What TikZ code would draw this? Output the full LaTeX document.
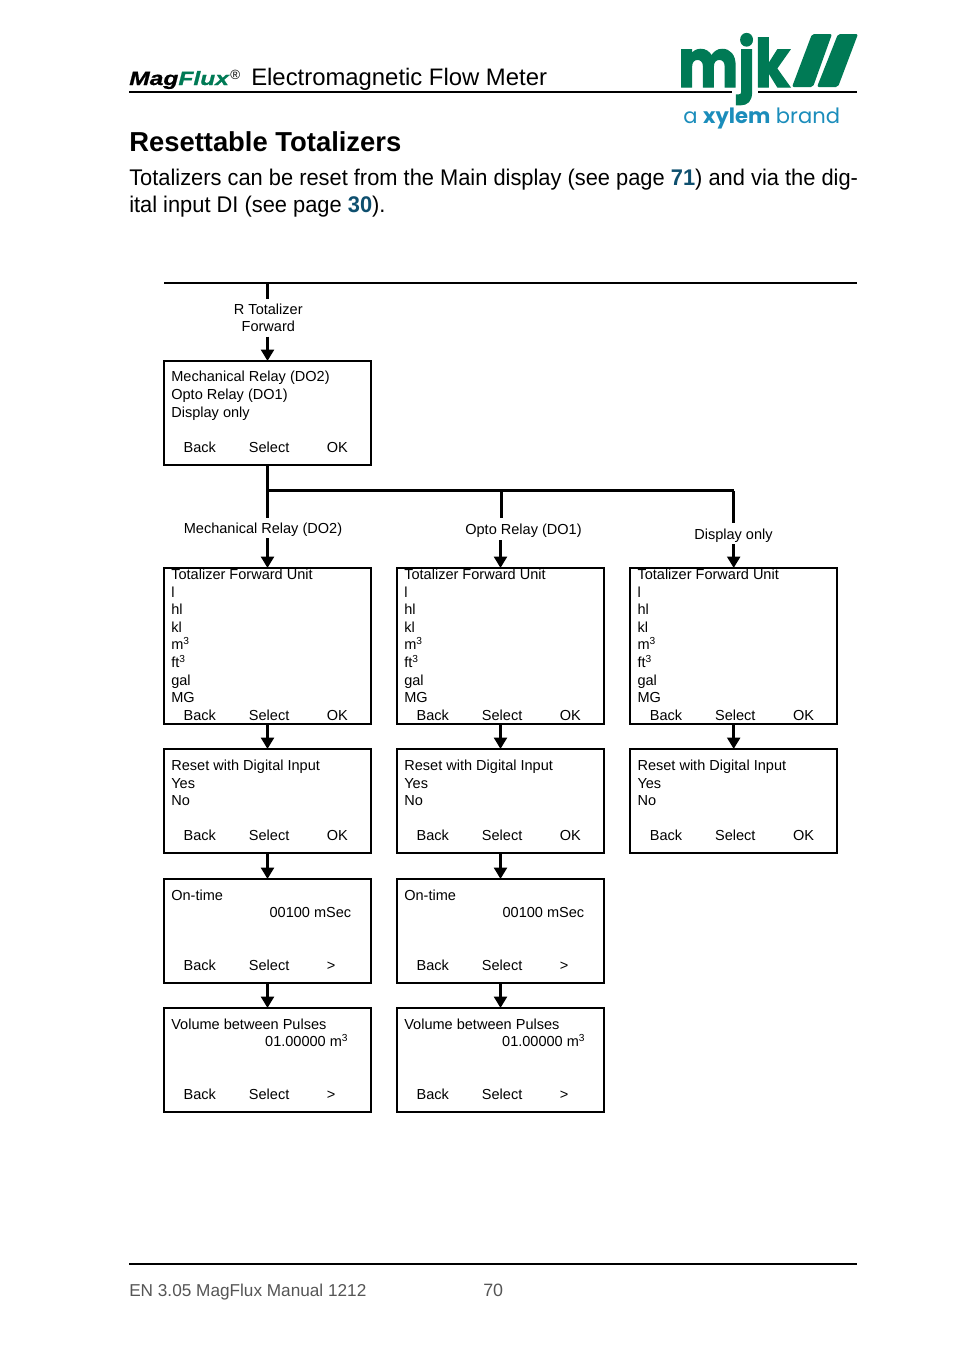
\documentclass[tikz,border=0pt]{standalone}
\usepackage{xcolor}
\usepackage{fontspec}
\setmainfont{Liberation Sans}
\newfontfamily\logofont{Poppins}
\newfontfamily\brandfont{Poppins}
\usetikzlibrary{arrows.meta,positioning}
\definecolor{mjkgreen}{HTML}{007A55}
\definecolor{xylemblue}{HTML}{1B8DBB}
\definecolor{linkblue}{HTML}{0E4F6E}
\definecolor{footgray}{HTML}{555555}
% softkey row of a display box: box name, third key, height above box bottom
\newcommand{\softkeys}[3]{
    \node[key] at ([xshift=14.5pt,yshift=#3]#1.south west) {Back};
    \node[key] at ([xshift=63.5pt,yshift=#3]#1.south west) {Select};
    \node[key] at ([xshift=122pt,yshift=#3]#1.south west) {#2};
}
\newcommand{\bodytext}[2]{
    \node[body] at ([xshift=5.3pt,yshift=-8pt]#1.north west) {#2};
}
\begin{document}
\begin{tikzpicture}[x=0.75pt,y=-0.75pt,
    dispbox/.style={draw=black,line width=1.7pt,minimum width=155.25pt,outer sep=0pt,inner sep=0pt},
    small/.style={dispbox,minimum height=78pt},
    tall/.style={dispbox,minimum height=117pt},
    body/.style={anchor=north west,align=left,inner sep=0pt,font=\fontsize{10.9}{13.2}\selectfont},
    key/.style={anchor=base west,inner sep=0pt,font=\fontsize{10.9}{13.2}\selectfont},
    lab/.style={align=center,inner sep=0pt,font=\fontsize{10.9}{13}\selectfont},
    oneline/.style={lab,text height=9.5pt,text depth=1pt},
    flow/.style={-{Triangle[length=8.5pt,width=9.5pt]},line width=2.25pt},
    stem/.style={line width=2.25pt},
    thinstem/.style={line width=1.8pt},
    page/.style={anchor=base west,inner sep=0pt}]
    \useasboundingbox (0,0) rectangle (954,1354);
    % page head
    \node[page,font=\fontsize{14.4}{16}\bfseries\itshape\selectfont] at (129,85) (brand) {\addfontfeature{FakeStretch=1.28,FakeBold=1}Mag\textcolor{mjkgreen}{Flux}};
    \node[page,font=\fontsize{10}{11}\selectfont] at (230,79) (reg) {®};
    \node[page,font=\fontsize{17.9}{20}\selectfont] at (251,85) (head) {Electromagnetic Flow Meter};
    \coordinate (ruleA) at (129,92);
    \coordinate (ruleB) at (732,92);
    \coordinate (ruleC) at (758,92);
    \coordinate (ruleD) at (857,92);
    \draw[line width=1pt] (ruleA) -- (ruleB);
    \draw[line width=1pt] (ruleC) -- (ruleD);
    % logo
    \node[page,text=mjkgreen,font=\fontsize{50}{60}\bfseries\selectfont] at (678,87) (mjk) {\logofont\addfontfeature{FakeStretch=0.85,FakeBold=2}mjk};
    \fill[mjkgreen,rounded corners=1.5pt] (812,34) -- (832,34) -- (813,87) -- (792,87) -- cycle;
    \fill[mjkgreen,rounded corners=1.5pt] (838,34) -- (858,34) -- (838,87) -- (817,87) -- cycle;
    \node[page,text=xylemblue,font=\fontsize{15.8}{20}\selectfont] at (683,123) (xylem) {\brandfont a \textbf{xylem} brand};
    % title and intro
    \node[page,font=\fontsize{20.55}{24}\bfseries\selectfont] at (129,151) (title) {Resettable Totalizers};
    \node[page,font=\fontsize{17}{20}\selectfont] at (129,185) (introA) {\addfontfeature{FakeStretch=0.964}Totalizers can be reset from the Main display (see page \textcolor{linkblue}{\textbf{71}}) and via the dig-};
    \node[page,font=\fontsize{17}{20}\selectfont] at (129,212) (introB) {\addfontfeature{FakeStretch=0.964}ital input DI (see page \textcolor{linkblue}{\textbf{30}}).};

    % boxes
    \node[small] at (267.5,413) (mode) {};
    \node[tall] at (267.5,646) (unitA) {};
    \node[tall] at (500.5,646) (unitB) {};
    \node[tall] at (733.7,646) (unitC) {};
    \node[small] at (267.5,801) (resetA) {};
    \node[small] at (500.5,801) (resetB) {};
    \node[small] at (733.7,801) (resetC) {};
    \node[small] at (267.5,931) (timeA) {};
    \node[small] at (500.5,931) (timeB) {};
    \node[small] at (267.5,1060) (volA) {};
    \node[small] at (500.5,1060) (volB) {};

    % box contents
    \node[body] at ([xshift=5.3pt,yshift=-7.5pt]mode.north west) {Mechanical Relay (DO2)\\Opto Relay (DO1)\\Display only};
    \softkeys{mode}{OK}{9.75pt}
    \foreach \col in {unitA,unitB,unitC}{
        \node[body] at ([xshift=5.3pt,yshift=-.5pt]\col.north west) {Totalizer Forward Unit\\l\\hl\\kl\\m\textsuperscript{3}\\ft\textsuperscript{3}\\gal\\MG};
        \softkeys{\col}{OK}{3pt}
    }
    \foreach \col in {resetA,resetB,resetC}{
        \bodytext{\col}{Reset with Digital Input\\Yes\\No}
        \softkeys{\col}{OK}{9.75pt}
    }
    \foreach \col in {timeA,timeB}{
        \bodytext{\col}{On-time}
        \node[key] at ([xshift=79pt,yshift=-28.5pt]\col.north west) {00100 mSec};
        \softkeys{\col}{>}{9.75pt}
    }
    \foreach \col/\off in {volA/75.7pt,volB/78.7pt}{
        \bodytext{\col}{Volume between Pulses}
        \node[key] at ([xshift=\off,yshift=-29.2pt]\col.north west) {01.00000 m\textsuperscript{3}};
        \softkeys{\col}{>}{9.75pt}
    }

    % branch labels
    \node[lab,minimum height=27.75pt] at (268.3,317.8) (labR) {R Totalizer\\Forward};
    \node[oneline,minimum height=15pt] at (263,528) (labA) {Mechanical Relay (DO2)};
    \node[oneline,minimum height=16.5pt] at (523.5,529) (labB) {Opto Relay (DO1)};
    \node[oneline,minimum height=15.75pt] at (733.5,533.5) (labC) {Display only};

    % top rule and foot
    \coordinate (topL) at (164,283);
    \coordinate (topR) at (857,283);
    \coordinate (topS) at (267.5,283);
    \draw[line width=1.5pt] (topL) -- (topR);
    \coordinate (footL) at (129,1264);
    \coordinate (footR) at (857,1264);
    \draw[line width=1.5pt] (footL) -- (footR);
    \node[page,text=footgray,font=\fontsize{12.9}{16}\selectfont] at (129,1296) (footA) {EN 3.05 MagFlux Manual 1212};
    \node[page,text=footgray,font=\fontsize{13.4}{16}\selectfont] at (483,1296) (footB) {70};

    % connectors
    \coordinate (junA) at (267.5,490.5);
    \coordinate (junB) at (501.5,490.5);
    \coordinate (junC) at (733.5,490.5);
    \draw[stem] (topS) -- (topS |- labR.north);
    \draw[flow] (mode.north |- labR.south) -- (mode.north);
    \draw[stem] (mode.south) -- (mode.south |- labA.north);
    \draw[flow] (unitA.north |- labA.south) -- (unitA.north);
    \draw[stem] (junA) -- (junC);
    \draw[thinstem] (junB) -- (junB |- labB.north);
    \draw[flow] (unitB.north |- labB.south) -- (unitB.north);
    \draw[thinstem] (junC) -- (junC |- labC.north);
    \draw[flow] (unitC.north |- labC.south) -- (unitC.north);
    \draw[flow] (unitA) -- (resetA);
    \draw[flow] (unitB) -- (resetB);
    \draw[flow] (unitC) -- (resetC);
    \draw[flow] (resetA) -- (timeA);
    \draw[flow] (resetB) -- (timeB);
    \draw[flow] (timeA) -- (volA);
    \draw[flow] (timeB) -- (volB);
\end{tikzpicture}
\end{document}
